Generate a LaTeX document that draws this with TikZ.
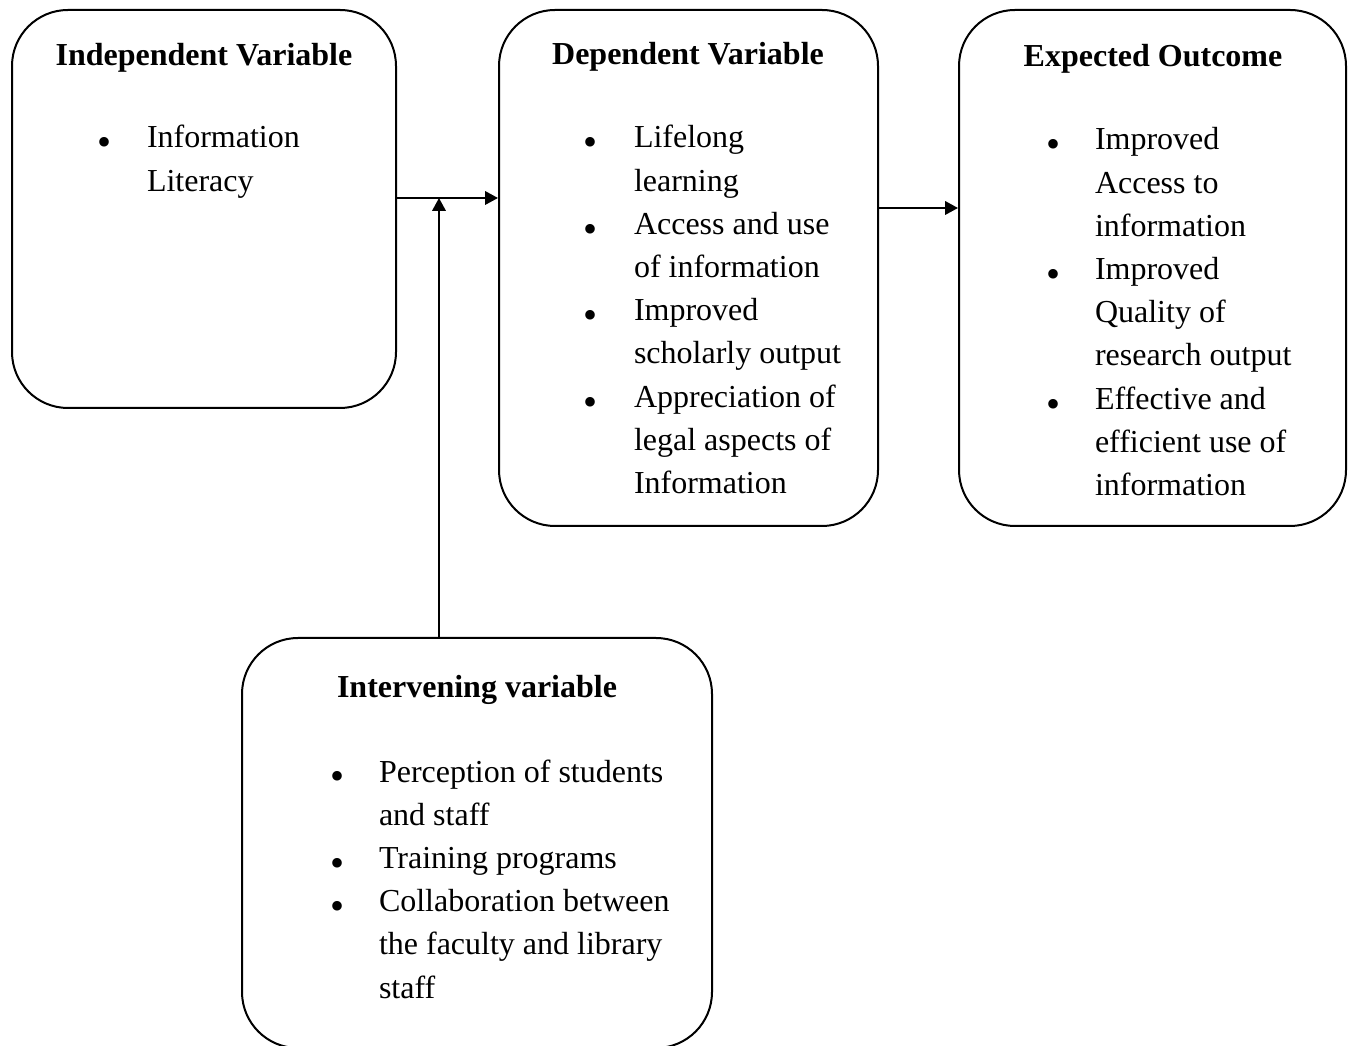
\documentclass[tikz,border=0pt]{standalone}
\usepackage{fontspec}
\setmainfont{Liberation Serif}
\usetikzlibrary{arrows.meta}

\begin{document}
\begin{tikzpicture}[x=0.375pt, y=-0.375pt, line width=0.75pt,
    every node/.style={font=\fontsize{12pt}{16.2pt}\selectfont},
    box/.style={draw, rounded corners=21pt, inner sep=0pt},
    title/.style={anchor=base, font=\fontsize{12pt}{16.2pt}\selectfont\bfseries},
    item/.style={anchor=base west, align=left, inner sep=0pt},
    dot/.style={anchor=base, inner sep=0pt},
    link/.style={-{Triangle[length=4.8pt,width=5pt]}}]
    \useasboundingbox (0,0) rectangle (1348,1046);

    % Boxes
    \node[box, minimum width=144pt, minimum height=149.25pt] (iv) at (204,209) {};
    \node[box, minimum width=142.125pt, minimum height=193.5pt] (dv) at (688.5,268) {};
    \node[box, minimum width=145.125pt, minimum height=193.5pt] (eo) at (1152.5,268) {};
    \node[box, minimum width=176.25pt, minimum height=153.75pt] (inv) at (477,843) {};

    % Titles
    \node[title] (ivt) at (204,66) {Independent Variable};
    \node[title] (dvt) at (688,65) {Dependent Variable};
    \node[title] (eot) at (1153,67) {Expected Outcome};
    \node[title] (invt) at (477,698) {Intervening variable};

    % Items (placed at the baseline of their last line)
    \node[item] (ivi) at (146,191.2) {Information\\Literacy};
    \node[dot] (ivb) at (105,156) {\scalebox{1.25}{\textbullet}};

    \node[item] (dvi) at (633,493.6) {Lifelong\\learning\\Access and use\\of information\\Improved\\scholarly output\\Appreciation of\\legal aspects of\\Information};
    \foreach \k in {0,2,4,6}
        \node[dot] (dvb\k) at (590,156+43.2*\k) {\scalebox{1.25}{\textbullet}};

    \node[item] (eoi) at (1094,495.6) {Improved\\Access to\\information\\Improved\\Quality of\\research output\\Effective and\\efficient use of\\information};
    \foreach \k in {0,3,6}
        \node[dot] (eob\k) at (1053,158+43.2*\k) {\scalebox{1.25}{\textbullet}};

    \node[item] (invi) at (378,998) {Perception of students\\and staff\\Training programs\\Collaboration between\\the faculty and library\\staff};
    \foreach \k in {0,2,3}
        \node[dot] (invb\k) at (337,790+43.2*\k) {\scalebox{1.25}{\textbullet}};

    % Arrows
    \coordinate (j) at (439,198);
    \draw[link] (iv.east |- j) -- (dv.west |- j);
    \draw[link] (inv.north -| j) -- (j);
    \draw[link] ([yshift=22.5pt]dv.east) -- ([yshift=22.5pt]dv.east -| eo.west);
\end{tikzpicture}
\end{document}
